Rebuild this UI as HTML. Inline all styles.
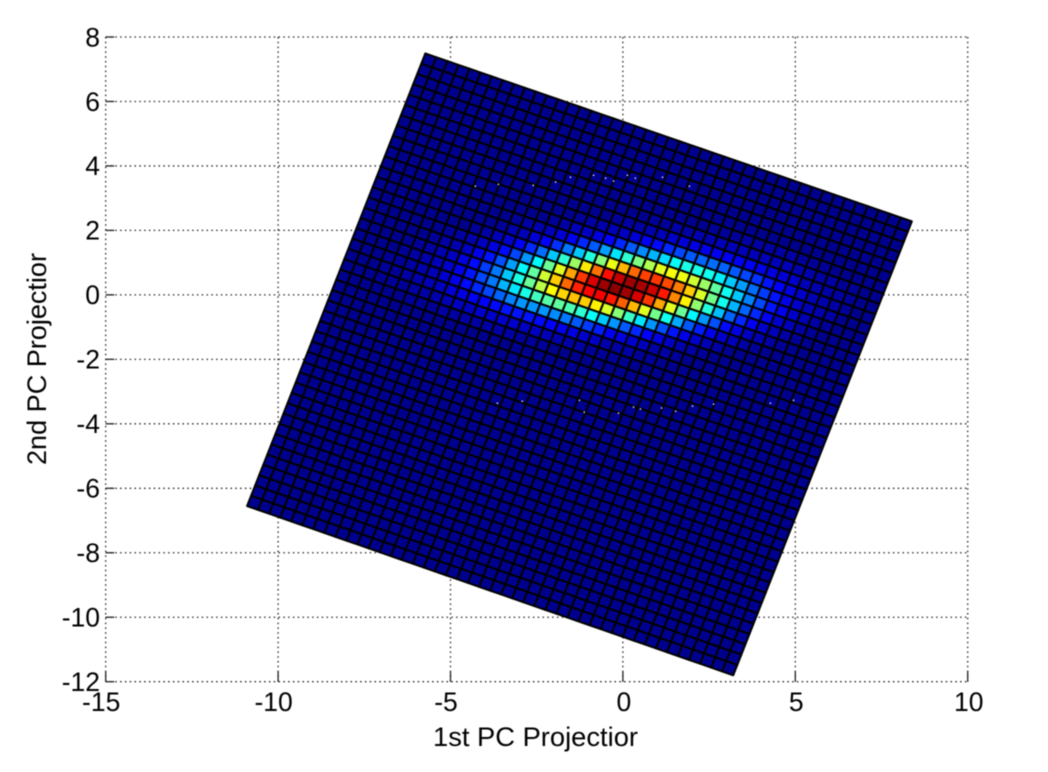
<!DOCTYPE html>
<html lang="en">
<head>
<meta charset="utf-8">
<title>PC Projection Surface</title>
<style>
  html, body { margin: 0; padding: 0; background: #fff; }
  body { width: 1048px; height: 772px; overflow: hidden; }
  svg { display: block; filter: blur(0.45px); }
  text { font-family: "Liberation Sans", Arial, sans-serif; fill: #000; }
</style>
</head>
<body>
<svg id="chart" xmlns="http://www.w3.org/2000/svg" width="1048" height="772" viewBox="0 0 1048 772">
  <g id="grid-layer"></g>
  <g id="surface-layer"></g>
  <g id="speck-layer"></g>
  <g id="tick-layer"></g>
  <text x="433" y="746" font-size="27" textLength="205" lengthAdjust="spacingAndGlyphs">1st PC Projectior</text>
  <text transform="translate(46,465) rotate(-90)" font-size="27" textLength="212" lengthAdjust="spacingAndGlyphs">2nd PC Projectior</text>
</svg>
<script>
// Axis data
const xTicks = [-15, -10, -5, 0, 5, 10];
const yTicks = [-12, -10, -8, -6, -4, -2, 0, 2, 4, 6, 8];

// Corners of the surface in data units: top-left, top-right, bottom-right, bottom-left
const cornerPc1 = [-5.73, 8.38, 3.2, -10.9];
const cornerPc2 = [7.49, 2.28, -11.8, -6.55];

// Mesh size (cells per side)
const meshCols = 44;
const meshRows = 44;

// Intensity (percent) of the non-background cells; all other cells are 0.
const firstRow = 6;
const firstCols = [28, 23, 20, 17, 15, 12, 11, 9, 7, 6, 5, 4, 3, 3, 3, 6];
const intensityRows = [
  [1,1,1,2,2,2,2,2,1,1,1],
  [1,1,2,2,3,3,4,4,4,4,4,4,4,3,3,2,2,1,1],
  [1,2,2,3,4,6,7,8,9,10,10,10,10,9,8,7,6,4,3,2,2,1],
  [1,2,3,4,5,7,10,12,15,18,20,21,22,21,20,18,16,13,11,8,6,4,3,2,1],
  [1,2,4,5,8,11,15,20,25,29,33,37,39,39,38,35,31,27,22,17,13,9,6,4,3,2],
  [1,2,3,4,7,10,15,20,27,34,41,49,54,59,61,60,57,52,46,38,31,24,18,13,9,6,4,2,1],
  [1,3,4,7,11,16,23,31,40,50,60,69,77,81,82,80,75,67,58,48,38,29,21,15,10,6,4,2,1],
  [1,2,4,6,10,15,22,31,41,52,64,76,86,93,97,96,92,85,74,63,51,40,30,21,15,10,6,4,2,1],
  [1,2,3,5,8,12,18,26,36,47,59,71,82,91,97,99,97,91,82,71,59,47,36,26,19,12,8,5,3,2,1],
  [1,2,3,5,9,13,19,27,36,46,57,67,77,84,87,88,85,78,69,59,48,38,28,20,14,9,6,4,2,1],
  [1,2,3,5,8,12,17,23,31,39,47,55,62,66,68,67,63,58,50,42,34,26,19,13,9,6,4,2],
  [1,2,3,4,6,9,13,18,23,29,34,39,43,45,46,44,41,37,31,26,20,15,11,8,5,3,2,1],
  [1,1,2,3,4,6,9,12,15,18,21,24,26,26,26,25,23,20,17,14,10,8,6,4,2,2,1],
  [1,1,2,3,4,5,7,8,10,11,12,13,13,13,12,11,9,8,6,5,3,2,2,1,1],
  [1,1,1,2,2,3,4,5,5,6,6,6,6,5,5,4,3,2,2,1,1,1],
  [1,1,1,2,2,2,2,2,2,2,1,1,1]
];

// Isolated light specks (data units)
const speckPc1 = [-4.28,-3.61,-2.6,-1.95,-1.52,-0.85,-0.5,-0.27,0.13,0.36,1.15,1.93,
                  -3.64,-2.92,-1.26,-1.12,-0.13,0.31,0.51,1.12,1.53,2.02,2.63,4.28,4.95];
const speckPc2 = [3.37,3.43,3.4,3.5,3.65,3.71,3.62,3.53,3.71,3.62,3.65,3.37,
                  -3.36,-3.3,-3.27,-3.64,-3.67,-3.48,-3.54,-3.51,-3.61,-3.45,-3.39,-3.36,-3.27];

// Axis functions
const plotLeft = 105.7, plotRight = 967.7, plotTop = 37, plotBottom = 681.7;
const xMin = xTicks[0], xMax = xTicks[xTicks.length - 1];
const yMin = yTicks[0], yMax = yTicks[yTicks.length - 1];
function xScale(v) { return plotLeft + (v - xMin) / (xMax - xMin) * (plotRight - plotLeft); }
function yScale(v) { return plotBottom - (v - yMin) / (yMax - yMin) * (plotBottom - plotTop); }

const NS = 'http://www.w3.org/2000/svg';
function clamp01(v) { return Math.max(0, Math.min(1, v)); }
function jet(v) {
  const t = v * 0.984 + 1 / 64;
  const r = clamp01(1.5 - Math.abs(4 * t - 3));
  const g = clamp01(1.5 - Math.abs(4 * t - 2));
  const b = clamp01(1.5 - Math.abs(4 * t - 1));
  return 'rgb(' + Math.round(r * 255) + ',' + Math.round(g * 255) + ',' + Math.round(b * 255) + ')';
}
function meshPoint(col, row) {
  const u = col / meshCols, v = row / meshRows;
  const px = (1 - v) * ((1 - u) * cornerPc1[0] + u * cornerPc1[1]) + v * ((1 - u) * cornerPc1[3] + u * cornerPc1[2]);
  const py = (1 - v) * ((1 - u) * cornerPc2[0] + u * cornerPc2[1]) + v * ((1 - u) * cornerPc2[3] + u * cornerPc2[2]);
  return xScale(px).toFixed(2) + ',' + yScale(py).toFixed(2);
}
function cellValue(row, col) {
  const r = row - firstRow;
  if (r < 0 || r >= intensityRows.length) return 0;
  const c = col - firstCols[r];
  if (c < 0 || c >= intensityRows[r].length) return 0;
  return intensityRows[r][c] / 100;
}

// Grid lines and frame
const gridLayer = document.getElementById('grid-layer');
function dotted(x1, y1, x2, y2, name) {
  const l = document.createElementNS(NS, 'line');
  l.setAttribute('x1', x1);
  l.setAttribute('y1', y1);
  l.setAttribute('x2', x2);
  l.setAttribute('y2', y2);
  l.setAttribute('stroke', '#222');
  l.setAttribute('stroke-width', '1.3');
  l.setAttribute('stroke-dasharray', '1.5 3.3');
  
  
  gridLayer.appendChild(l);
}
xTicks.forEach(function (t) { dotted(xScale(t), plotTop, xScale(t), plotBottom, 'x-grid-line'); });
yTicks.forEach(function (t) { dotted(plotLeft, yScale(t), plotRight, yScale(t), 'y-grid-line'); });

// Surface mesh
const surfaceLayer = document.getElementById('surface-layer');
for (let row = 0; row < meshRows; row++) {
  for (let col = 0; col < meshCols; col++) {
    const cell = document.createElementNS(NS, 'polygon');
    cell.setAttribute('points', meshPoint(col, row) + ' ' + meshPoint(col + 1, row) + ' ' + meshPoint(col + 1, row + 1) + ' ' + meshPoint(col, row + 1));
    cell.setAttribute('fill', jet(cellValue(row, col)));
    cell.setAttribute('stroke', '#000');
    cell.setAttribute('stroke-width', '2');
    cell.setAttribute('stroke-linejoin', 'round');
    
    
    surfaceLayer.appendChild(cell);
  }
}

// Specks
const speckLayer = document.getElementById('speck-layer');
speckPc1.forEach(function (x, i) {
  const s = document.createElementNS(NS, 'rect');
  s.setAttribute('x', xScale(x) - 0.7);
  s.setAttribute('y', yScale(speckPc2[i]) - 0.7);
  s.setAttribute('width', 1.4);
  s.setAttribute('height', 1.4);
  s.setAttribute('fill', '#e8e8f4');
  
  
  speckLayer.appendChild(s);
});

// Ticks and labels
const tickLayer = document.getElementById('tick-layer');
function solid(x1, y1, x2, y2, name) {
  const l = document.createElementNS(NS, 'line');
  l.setAttribute('x1', x1);
  l.setAttribute('y1', y1);
  l.setAttribute('x2', x2);
  l.setAttribute('y2', y2);
  l.setAttribute('stroke', '#222');
  l.setAttribute('stroke-width', '1.3');
  
  
  tickLayer.appendChild(l);
}
function label(x, y, str, anchor, name) {
  const t = document.createElementNS(NS, 'text');
  t.setAttribute('x', x);
  t.setAttribute('y', y);
  t.setAttribute('font-size', '26.5');
  t.setAttribute('text-anchor', anchor);
  t.textContent = str;
  
  
  tickLayer.appendChild(t);
}
xTicks.forEach(function (t) {
  solid(xScale(t), plotBottom, xScale(t), plotBottom - 10, 'x-tick');
  label(xScale(t) + (t < 0 ? -4.5 : 1), 711, String(t), 'middle', 'x-tick-label');
});
yTicks.forEach(function (t) {
  solid(plotLeft, yScale(t), plotLeft + 8.6, yScale(t), 'y-tick');
  label(100, yScale(t) + 9.3, String(t), 'end', 'y-tick-label');
});
</script>
</body>
</html>
